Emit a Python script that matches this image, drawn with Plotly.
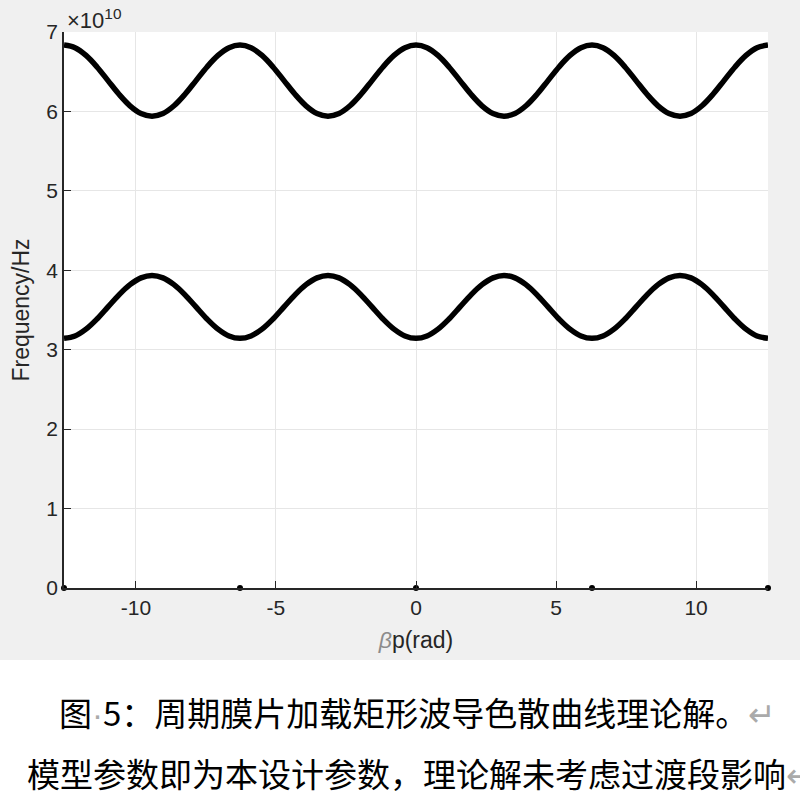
import numpy as np
import plotly.graph_objects as go

# beta*p sample positions (rad), step pi/8 from -4pi to 4pi
beta_p = np.linspace(-4 * np.pi, 4 * np.pi, 65)

# upper passband (units of 1e10 Hz)
upper_band = [
    6.836, 6.802, 6.705, 6.560, 6.388, 6.216, 6.071, 5.974, 5.940, 5.974, 6.071, 6.216, 6.388, 6.560, 6.705, 6.802,
    6.836, 6.802, 6.705, 6.560, 6.388, 6.216, 6.071, 5.974, 5.940, 5.974, 6.071, 6.216, 6.388, 6.560, 6.705, 6.802,
    6.836, 6.802, 6.705, 6.560, 6.388, 6.216, 6.071, 5.974, 5.940, 5.974, 6.071, 6.216, 6.388, 6.560, 6.705, 6.802,
    6.836, 6.802, 6.705, 6.560, 6.388, 6.216, 6.071, 5.974, 5.940, 5.974, 6.071, 6.216, 6.388, 6.560, 6.705, 6.802,
    6.836,
]

# lower passband (units of 1e10 Hz)
lower_band = [
    3.143, 3.173, 3.259, 3.387, 3.539, 3.691, 3.819, 3.905, 3.935, 3.905, 3.819, 3.691, 3.539, 3.387, 3.259, 3.173,
    3.143, 3.173, 3.259, 3.387, 3.539, 3.691, 3.819, 3.905, 3.935, 3.905, 3.819, 3.691, 3.539, 3.387, 3.259, 3.173,
    3.143, 3.173, 3.259, 3.387, 3.539, 3.691, 3.819, 3.905, 3.935, 3.905, 3.819, 3.691, 3.539, 3.387, 3.259, 3.173,
    3.143, 3.173, 3.259, 3.387, 3.539, 3.691, 3.819, 3.905, 3.935, 3.905, 3.819, 3.691, 3.539, 3.387, 3.259, 3.173,
    3.143,
]

# points on the axis at multiples of 2*pi
axis_dots_x = [-4 * np.pi, -2 * np.pi, 0.0, 2 * np.pi, 4 * np.pi]
axis_dots_y = [0, 0, 0, 0, 0]

x_ticks = [-10, -5, 0, 5, 10]
x_tick_labels = ["-10", "-5", "0", "5", "10"]
y_ticks = [0, 1, 2, 3, 4, 5, 6, 7]
y_tick_labels = ["0", "1", "2", "3", "4", "5", "6", "7"]

caption_1 = ('图<span style="font-family:Liberation Sans;color:#aaaaaa">·</span>5：周期膜片加载矩形波导色散曲线理论解。'
             '<span style="color:#aaaaaa">↵</span>')
caption_2 = '模型参数即为本设计参数，理论解未考虑过渡段影响<span style="color:#aaaaaa">↵</span>'

fig = go.Figure()
fig.add_trace(go.Scatter(x=beta_p, y=upper_band, mode="lines", line=dict(color="black", width=5.5, shape="spline"),
                         showlegend=False))
fig.add_trace(go.Scatter(x=beta_p, y=lower_band, mode="lines", line=dict(color="black", width=5.5, shape="spline"),
                         showlegend=False))
fig.add_trace(go.Scatter(x=axis_dots_x, y=axis_dots_y, mode="markers", marker=dict(color="black", size=6),
                         showlegend=False, cliponaxis=False))

tickfont = dict(family="Liberation Sans, Arial", size=21, color="#262626")
labelfont = dict(family="Liberation Sans, Arial", size=23, color="#262626")
fig.update_layout(
    width=800, height=800,
    margin=dict(l=64, r=32, t=32, b=212),
    paper_bgcolor="#f0f0f0",
    plot_bgcolor="white",
    xaxis=dict(range=[-4 * np.pi, 4 * np.pi], tickvals=x_ticks, ticktext=x_tick_labels, ticks="inside", ticklen=7,
               tickcolor="#262626", showline=True, linecolor="#262626", linewidth=1.5, showgrid=True,
               gridcolor="#e6e6e6", gridwidth=1, zeroline=False, tickfont=tickfont,
               title=dict(text='<i><span style="color:#8c8c8c">β</span></i>p(rad)', font=labelfont, standoff=14)),
    yaxis=dict(range=[0, 7], tickvals=y_ticks, ticktext=y_tick_labels, ticks="inside", ticklen=7,
               tickcolor="#262626", showline=True, linecolor="#262626", linewidth=1.5, showgrid=True,
               gridcolor="#e6e6e6", gridwidth=1, zeroline=False, tickfont=tickfont,
               title=dict(text="Frequency/Hz", font=labelfont, standoff=10)),
    shapes=[dict(type="rect", xref="paper", yref="paper", x0=-0.2, x1=1.2, y0=(588 - 660) / 556, y1=-0.6,
                 fillcolor="white", line=dict(width=0), layer="above")],
    annotations=[
        dict(text="×10<sup>10</sup>", xref="paper", yref="paper", x=0.001, y=(588 - 19) / 556,
             xanchor="left", yanchor="middle", showarrow=False,
             font=dict(family="Liberation Sans, Arial", size=22, color="#262626")),
        dict(text=caption_1, xref="paper", yref="paper", x=(57 - 64) / 704, y=(588 - 712) / 556,
             xanchor="left", yanchor="middle", showarrow=False,
             font=dict(family="Noto Sans CJK SC", size=33, color="black")),
        dict(text=caption_2, xref="paper", yref="paper", x=(25 - 64) / 704, y=(588 - 773) / 556,
             xanchor="left", yanchor="middle", showarrow=False,
             font=dict(family="Noto Sans CJK SC", size=33, color="black")),
    ],
)

fig.write_html("out.html", config={"displayModeBar": False},
               post_script="document.body.style.margin='0';document.body.style.overflow='hidden';")
